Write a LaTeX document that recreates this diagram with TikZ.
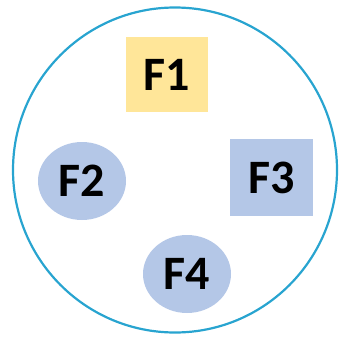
\documentclass[tikz,border=0pt]{standalone}
\usepackage{fontspec}
\setmainfont{Carlito}
\usetikzlibrary{shapes.geometric}
\definecolor{ringblue}{HTML}{28A4D0}
\definecolor{fyellow}{HTML}{FFE699}
\definecolor{fblue}{HTML}{B4C7E7}
\tikzset{
  lbl/.style={font=\fontsize{48}{48}\selectfont\bfseries, text=black},
  sqbox/.style={rectangle, fill=#1, inner sep=0pt},
  ellbox/.style={ellipse, fill=fblue, inner sep=0pt, minimum width=88pt, minimum height=78pt},
}
\begin{document}
\begin{tikzpicture}[x=1pt,y=-1pt]
\useasboundingbox (0,0) rectangle (340,337);
\node[draw=ringblue, line width=2.2pt, ellipse, minimum width=324pt, minimum height=325pt, inner sep=0pt] (ring) at (175,170) {};
\node[sqbox=fyellow, minimum width=82pt, minimum height=75pt, lbl] (f1) at (167,74.5) {F1};
\node[sqbox=fblue, minimum width=83pt, minimum height=77pt, lbl] (f3) at (271.5,177.5) {F3};
\node[ellbox, lbl] (f2) at (82,181) {F2};
\node[ellbox, lbl] (f4) at (187,274) {F4};
\end{tikzpicture}
\end{document}
